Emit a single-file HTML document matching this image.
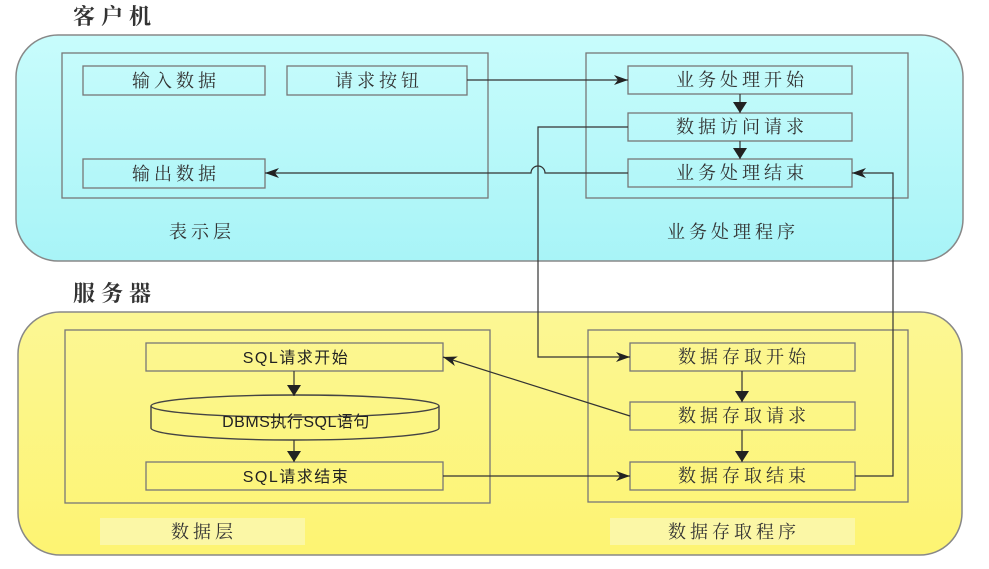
<!DOCTYPE html>
<html><head><meta charset="utf-8"><style>
html,body{margin:0;padding:0;background:#fff;width:989px;height:569px;overflow:hidden}
.t{font-family:"Liberation Serif","Noto Serif CJK SC","Noto Sans CJK SC",serif;fill:#333}
.s{font-family:"Liberation Sans","Noto Sans CJK SC",sans-serif;fill:#222}
</style></head><body>
<svg width="989" height="569" viewBox="0 0 989 569" xmlns="http://www.w3.org/2000/svg">
<defs>
<linearGradient id="cy" x1="0" y1="0" x2="0" y2="1"><stop offset="0" stop-color="#c8fcfc"/><stop offset="1" stop-color="#a8f4f7"/></linearGradient>
<linearGradient id="yl" x1="0" y1="0" x2="0" y2="1"><stop offset="0" stop-color="#fcf794"/><stop offset="1" stop-color="#fdf472"/></linearGradient>
<marker id="a" markerWidth="14" markerHeight="10" refX="14" refY="5" orient="auto" markerUnits="userSpaceOnUse"><path d="M0,0 L14,5 L0,10 L4,5 Z" fill="#222"/></marker>
<marker id="b" markerWidth="14" markerHeight="11" refX="7" refY="11" orient="0" markerUnits="userSpaceOnUse"><path d="M0,0 L14,0 L7,11 Z" fill="#222"/></marker>
</defs>
<text class="t" x="73" y="24" font-size="22" font-weight="bold" letter-spacing="6">客户机</text>
<text class="t" x="73" y="301" font-size="22" font-weight="bold" letter-spacing="6">服务器</text>
<rect x="16" y="35" width="947" height="226" rx="42" fill="url(#cy)" stroke="#888" stroke-width="1.5"/>
<rect x="18" y="312" width="944" height="243" rx="42" fill="url(#yl)" stroke="#888" stroke-width="1.5"/>
<g fill="none" stroke="#777" stroke-width="1.3">
<rect x="62" y="53" width="426" height="145"/>
<rect x="586" y="53" width="322" height="145"/>
<rect x="65" y="330" width="425" height="173"/>
<rect x="588" y="330" width="320" height="172"/>
</g>
<rect x="100" y="518" width="205" height="27" fill="#fbf7a6"/>
<rect x="610" y="518" width="245" height="27" fill="#fbf7a6"/>
<g fill="none" stroke="#777" stroke-width="1.3">
<rect x="83" y="66" width="182" height="29"/>
<rect x="287" y="66" width="180" height="29"/>
<rect x="83" y="159" width="182" height="29"/>
<rect x="628" y="66" width="224" height="28"/>
<rect x="628" y="113" width="224" height="28"/>
<rect x="628" y="159" width="224" height="28"/>
<rect x="146" y="343" width="297" height="28"/>
<rect x="146" y="462" width="297" height="28"/>
<rect x="630" y="343" width="225" height="28"/>
<rect x="630" y="402" width="225" height="28"/>
<rect x="630" y="462" width="225" height="28"/>
</g>
<g stroke="#444" stroke-width="1.4" fill="none">
<path d="M151,406 L151,428 A144,12 0 0 0 439,428 L439,406"/>
<ellipse cx="295" cy="406" rx="144" ry="11"/>
</g>
<g font-size="18" text-anchor="middle" class="t" letter-spacing="4">
<text class="t" x="176" y="87">输入数据</text>
<text class="t" x="379" y="87">请求按钮</text>
<text class="t" x="176" y="180">输出数据</text>
<text class="t" x="742" y="86">业务处理开始</text>
<text class="t" x="742" y="133">数据访问请求</text>
<text class="t" x="742" y="179">业务处理结束</text>
<text class="t" x="202" y="238">表示层</text>
<text class="t" x="733" y="238">业务处理程序</text>
<text class="t" x="744" y="363">数据存取开始</text>
<text class="t" x="744" y="422">数据存取请求</text>
<text class="t" x="744" y="482">数据存取结束</text>
<text class="t" x="204" y="538">数据层</text>
<text class="t" x="734" y="538">数据存取程序</text>
</g>
<g font-size="16" text-anchor="middle">
<text class="s" x="296" y="363" letter-spacing="1.5">SQL请求开始</text>
<text class="s" x="296" y="427" letter-spacing="0.5">DBMS执行SQL语句</text>
<text class="s" x="296" y="482" letter-spacing="1.5">SQL请求结束</text>
</g>
<g stroke="#333" stroke-width="1.2" fill="none">
<path d="M467,80 L628,80" marker-end="url(#a)"/>
<path d="M628,173 L545,173 A7,7 0 0 0 531,173 L265,173" marker-end="url(#a)"/>
<path d="M628,127 L538,127 L538,357 L630,357" marker-end="url(#a)"/>
<path d="M855,476 L893,476 L893,173 L852,173" marker-end="url(#a)"/>
<path d="M630,416 L443,357" marker-end="url(#a)"/>
<path d="M443,476 L630,476" marker-end="url(#a)"/>
<path d="M740,94 L740,113" marker-end="url(#b)"/>
<path d="M740,141 L740,159" marker-end="url(#b)"/>
<path d="M742,371 L742,402" marker-end="url(#b)"/>
<path d="M742,430 L742,462" marker-end="url(#b)"/>
<path d="M294,371 L294,396" marker-end="url(#b)"/>
<path d="M294,440 L294,462" marker-end="url(#b)"/>
</g>
</svg>
</body></html>
